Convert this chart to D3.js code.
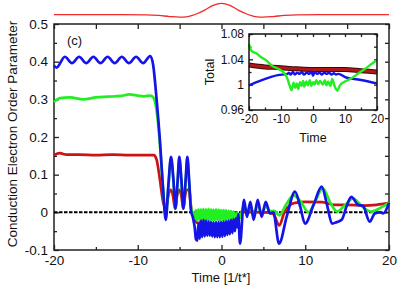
<!DOCTYPE html>
<html>
<head>
<meta charset="utf-8">
<script src="https://d3js.org/d3.v7.min.js"></script>
<style>
  body { margin: 0; background: #fff; }
  svg text { font-family: "Liberation Sans", Arial, sans-serif; fill: #111; }
</style>
</head>
<body>
<svg id="main-svg"></svg>
<script>
let width = 411;
let height = 288;

// pulse drawn above the main frame (arbitrary units)
let pulse = [[-20, 0], [-12, 0], [-9, -0.01], [-7.5, -0.06], [-6.2, -0.16], [-5, -0.22], [-4, -0.16],
  [-3, 0.06], [-2, 0.4], [-1, 0.82], [0, 1], [1, 0.82], [2, 0.4], [3, 0.06], [4, -0.16], [5, -0.22],
  [6.2, -0.16], [7.5, -0.06], [9, -0.01], [12, 0], [20, 0]];

// main panel series [time, order parameter]
let blue = [[-20, 0.390], [-19.7, 0.384], [-18.7, 0.413], [-17.85, 0.396], [-17.0, 0.413], [-16.15, 0.396],
  [-15.3, 0.413], [-14.45, 0.396], [-13.6, 0.413], [-12.75, 0.396], [-11.9, 0.413], [-11.05, 0.396],
  [-10.2, 0.413], [-9.35, 0.396], [-8.5, 0.415], [-8.15, 0.39], [-7.75, 0.30], [-7.35, 0.19], [-7.0, 0.07],
  [-6.65, -0.02], [-6.35, 0.07], [-6.03, 0.147], [-5.75, 0.09], [-5.5, 0.01], [-5.25, 0.08], [-5.04, 0.147],
  [-4.8, 0.09], [-4.56, 0.01], [-4.3, 0.08], [-4.08, 0.147], [-3.85, 0.08], [-3.65, 0.006], [-3.4, -0.015],
  [-3.2, -0.04], [-3.05, -0.072], [-2.9, -0.075], [-2.75, -0.03], [-2.6, -0.07], [-2.45, -0.022], [-2.3, -0.066],
  [-2.15, -0.02], [-2.0, -0.064], [-1.85, -0.022], [-1.7, -0.062], [-1.55, -0.024], [-1.4, -0.062], [-1.25, -0.025],
  [-1.1, -0.064], [-0.95, -0.026], [-0.8, -0.066], [-0.65, -0.026], [-0.5, -0.066], [-0.35, -0.025], [-0.2, -0.066],
  [-0.05, -0.025], [0.1, -0.065], [0.25, -0.024], [0.4, -0.063], [0.55, -0.023], [0.7, -0.06], [0.85, -0.022],
  [1.0, -0.058], [1.15, -0.02], [1.3, -0.055], [1.45, -0.018], [1.6, -0.05], [1.75, -0.015], [1.9, -0.04],
  [2.0, -0.005], [2.21, -0.083], [2.69, 0.033], [3.04, -0.012], [3.44, 0.028], [3.84, -0.02], [4.32, 0.033],
  [4.8, -0.012], [5.28, 0.028], [5.79, -0.003], [6.19, 0.0], [6.87, -0.083], [7.8, -0.01], [8.78, 0.055],
  [9.4, 0.015], [9.97, -0.03], [11.0, 0.02], [11.96, 0.068], [12.6, 0.02], [13.2, -0.03], [13.75, -0.026],
  [14.35, -0.02], [15.0, 0.02], [15.5, 0.041], [16.3, 0.02], [16.9, 0.017], [17.7, -0.025], [18.3, -0.003],
  [18.9, 0.0], [19.3, -0.003], [20, 0.025]];

let green = [[-20, 0.293], [-19.3, 0.303], [-18.1, 0.305], [-16.5, 0.300], [-15, 0.305], [-13.5, 0.307],
  [-12, 0.309], [-11, 0.313], [-10, 0.310], [-9.3, 0.308], [-8.5, 0.310], [-8.15, 0.305], [-7.75, 0.27],
  [-7.35, 0.18], [-7.0, 0.07], [-6.65, -0.01], [-6.35, 0.065], [-6.03, 0.14], [-5.75, 0.085], [-5.5, 0.01],
  [-5.25, 0.075], [-5.04, 0.14], [-4.8, 0.085], [-4.56, 0.012], [-4.3, 0.075], [-4.08, 0.14], [-3.85, 0.075],
  [-3.6, 0.008], [-3.35, -0.005], [-3.2, -0.018], [-3.05, 0.006], [-2.9, -0.022], [-2.75, 0.008], [-2.6, -0.02],
  [-2.45, 0.008], [-2.3, -0.019], [-2.15, 0.009], [-2.0, -0.02], [-1.85, 0.008], [-1.7, -0.02], [-1.55, 0.009],
  [-1.4, -0.021], [-1.25, 0.008], [-1.1, -0.02], [-0.95, 0.007], [-0.8, -0.021], [-0.65, 0.008], [-0.5, -0.02],
  [-0.35, 0.007], [-0.2, -0.021], [-0.05, 0.006], [0.1, -0.02], [0.25, 0.006], [0.4, -0.02], [0.55, 0.005],
  [0.7, -0.019], [0.85, 0.004], [1.0, -0.018], [1.15, 0.003], [1.3, -0.017], [1.45, 0.002], [1.6, -0.015],
  [1.8, -0.002], [2.0, -0.005], [2.2, -0.015], [2.69, 0.02], [3.04, -0.004], [3.44, 0.017], [3.84, -0.008],
  [4.32, 0.02], [4.8, -0.004], [5.28, 0.017], [5.8, 0.003], [6.3, 0.004], [6.9, -0.008], [7.7, 0.02],
  [8.6, 0.045], [9.4, 0.03], [10.4, 0.0], [11.2, 0.03], [12.1, 0.064], [13.0, 0.025], [13.8, 0.002],
  [14.7, 0.018], [15.7, 0.037], [16.8, 0.015], [17.9, 0.002], [19, 0.012], [20, 0.025]];

let red = [[-20, 0.152], [-19.3, 0.157], [-18.5, 0.153], [-17, 0.153], [-15, 0.152], [-13, 0.153], [-11, 0.152],
  [-9, 0.152], [-8.1, 0.152], [-7.75, 0.14], [-7.35, 0.086], [-6.95, 0.025], [-6.63, 0.012], [-6.3, 0.05],
  [-6.07, 0.06], [-5.8, 0.045], [-5.55, 0.01], [-5.3, 0.045], [-5.04, 0.06], [-4.8, 0.045], [-4.56, 0.01],
  [-4.3, 0.05], [-4.1, 0.06], [-3.9, 0.06], [-3.56, 0.002], [-2.77, -0.029], [-2.2, -0.015], [-1, -0.012],
  [0, -0.013], [1, -0.015], [1.6, -0.015], [2.2, -0.01], [2.6, 0.01], [3.0, -0.002], [3.5, 0.002], [4.5, 0.0],
  [5.5, 0.0], [6.2, -0.005], [6.9, -0.035], [7.5, 0.0], [8.2, 0.02], [8.8, 0.025], [10, 0.028], [12, 0.027],
  [13.5, 0.02], [15, 0.02], [17, 0.018], [18.5, 0.02], [20, 0.025]];

// inset series [time, total]
let insetRed = [[-20, 1.031], [-15, 1.028], [-11, 1.027], [-5, 1.025], [0, 1.024], [5, 1.024], [10, 1.024],
  [15, 1.022], [20, 1.020]];
let insetBlue = [[-20, 0.999], [-16, 1.007], [-11, 1.015], [-8, 1.017], [-7.5, 1.019], [-7, 1.016], [-6.3, 1.020],
  [-5.6, 1.016], [-5, 1.019], [-4.2, 1.017], [-3.5, 1.020], [-2.8, 1.016], [-2, 1.019], [-1.2, 1.017],
  [-0.5, 1.021], [0, 1.014], [0.5, 1.020], [1.3, 1.017], [2, 1.019], [2.8, 1.016], [3.5, 1.019], [4.3, 1.017],
  [5, 1.019], [5.8, 1.016], [6.5, 1.018], [7.2, 1.016], [8, 1.017], [10, 1.012], [15.4, 1.007], [20, 1.002]];
let insetGreen = [[-20, 1.064], [-19.3, 1.054], [-17.6, 1.049], [-16.1, 1.043], [-14.5, 1.038], [-12.9, 1.030],
  [-10.9, 1.025], [-9.3, 1.020], [-8.2, 1.012], [-7.2, 0.997], [-6.7, 0.991], [-6.1, 1.003], [-5.6, 0.995],
  [-5.1, 1.002], [-4.6, 0.993], [-4.1, 1.004], [-3.6, 0.998], [-3.1, 1.006], [-2.7, 0.997], [-2.1, 1.005],
  [-1.6, 0.999], [-1, 1.007], [-0.5, 0.998], [0, 1.004], [0.5, 1.000], [1, 1.007], [1.6, 1.001], [2.2, 1.006],
  [3.1, 1.000], [3.7, 1.007], [4.2, 0.999], [4.7, 1.005], [5.4, 0.998], [6.0, 1.009], [6.8, 0.997],
  [7.6, 0.9905], [8.4, 0.999], [10, 1.005], [12, 1.010], [14.2, 1.018], [16.3, 1.025], [18.4, 1.033],
  [19.9, 1.038]];

let yTicks = [-0.1, 0, 0.1, 0.2, 0.3, 0.4, 0.5];
let xTicks = [-20, -10, 0, 10, 20];
let insetYTicks = [0.96, 1, 1.04, 1.08];

let svg = d3.select('#main-svg')
  .attr('width', width)
  .attr('height', height);

let x = d3.scaleLinear().domain([-20, 20]).range([54, 389]);
let y = d3.scaleLinear().domain([-0.1, 0.5]).range([250, 24]);
let yPulse = d3.scaleLinear().domain([0, 1]).range([14.7, 3.3]);

let xi = d3.scaleLinear().domain([-20, 20]).range([249, 377]);
let yi = d3.scaleLinear().domain([0.96, 1.08]).range([110, 34]);

// plain hyphen minus, like the original
let fmt = d => String(+d.toFixed(2));

function minorOf(ticks) {
  let out = [];
  for (let i = 0; i < ticks.length - 1; i++) out.push((ticks[i] + ticks[i + 1]) / 2);
  return out;
}

function drawAxis(axis, tx, ty) {
  let a = svg.append('g').attr('transform', `translate(${tx},${ty})`).call(axis);
  a.select('.domain').remove();
  a.selectAll('line').attr('stroke', '#222').attr('stroke-width', 1.3);
  return a;
}

// pulse on top
svg.append('path').datum(pulse)
  .attr('d', d3.line().x(d => x(d[0])).y(d => yPulse(d[1])).curve(d3.curveMonotoneX))
  .attr('fill', 'none')
  .attr('stroke', '#f22a2a')
  .attr('stroke-width', 1.3);

// main axes
let left = drawAxis(d3.axisLeft(y).tickValues(yTicks).tickSize(-5).tickSizeOuter(0).tickPadding(6)
  .tickFormat(fmt), 54, 0);
left.selectAll('text').style('font-size', '13.5px');
drawAxis(d3.axisLeft(y).tickValues(minorOf(yTicks)).tickSize(-3).tickSizeOuter(0).tickFormat(''), 54, 0);
drawAxis(d3.axisRight(y).tickValues(yTicks.concat(minorOf(yTicks))).tickSize(-4).tickSizeOuter(0).tickFormat(''), 389, 0);
let bottom = drawAxis(d3.axisBottom(x).tickValues(xTicks).tickSize(-5).tickSizeOuter(0).tickPadding(5)
  .tickFormat(fmt), 0, 250);
bottom.selectAll('text').style('font-size', '13.5px');
drawAxis(d3.axisBottom(x).tickValues(minorOf(xTicks)).tickSize(-3).tickSizeOuter(0).tickFormat(''), 0, 250);
drawAxis(d3.axisTop(x).tickValues(xTicks.concat(minorOf(xTicks))).tickSize(-5).tickSizeOuter(0).tickFormat(''), 0, 24);

svg.append('rect')
  .attr('x', 54).attr('y', 24)
  .attr('width', 389 - 54).attr('height', 250 - 24)
  .attr('fill', 'none').attr('stroke', '#222').attr('stroke-width', 1.5);

// zero line
svg.append('line')
  .attr('x1', x(-20)).attr('x2', x(20))
  .attr('y1', y(0)).attr('y2', y(0))
  .attr('stroke', '#000').attr('stroke-width', 2).attr('stroke-dasharray', '3.5,1.5');

let line = d3.line().x(d => x(d[0])).y(d => y(d[1])).curve(d3.curveMonotoneX);
[[red, '#c81414'], [green, '#22ee22'], [blue, '#1414e6']].forEach(([data, color]) => {
  svg.append('path').datum(data)
    .attr('d', line)
    .attr('fill', 'none')
    .attr('stroke', color)
    .attr('stroke-width', 2.7)
    .attr('stroke-linejoin', 'round');
});

svg.append('text').attr('x', 67).attr('y', 45).style('font-size', '13px').text('(c)');

svg.append('text')
  .attr('transform', `translate(17,134) rotate(-90)`)
  .attr('text-anchor', 'middle')
  .style('font-size', '13.5px')
  .text('Conduction Electron Order Parameter');

svg.append('text')
  .attr('x', 221).attr('y', 282)
  .attr('text-anchor', 'middle')
  .style('font-size', '13px')
  .text('Time [1/t*]');

// inset
svg.append('rect')
  .attr('x', 249).attr('y', 34)
  .attr('width', 377 - 249).attr('height', 110 - 34)
  .attr('fill', '#fff');

let iLeft = drawAxis(d3.axisLeft(yi).tickValues(insetYTicks).tickSize(-4).tickSizeOuter(0).tickPadding(5)
  .tickFormat(fmt), 249, 0);
iLeft.selectAll('text').style('font-size', '12px');
drawAxis(d3.axisLeft(yi).tickValues(minorOf(insetYTicks)).tickSize(-2.5).tickSizeOuter(0).tickFormat(''), 249, 0);
drawAxis(d3.axisRight(yi).tickValues(insetYTicks.concat(minorOf(insetYTicks))).tickSize(-3).tickSizeOuter(0).tickFormat(''), 377, 0);
let iBottom = drawAxis(d3.axisBottom(xi).tickValues(xTicks).tickSize(-4).tickSizeOuter(0).tickPadding(4)
  .tickFormat(fmt), 0, 110);
iBottom.selectAll('text').style('font-size', '12px');
drawAxis(d3.axisBottom(xi).tickValues(minorOf(xTicks)).tickSize(-2.5).tickSizeOuter(0).tickFormat(''), 0, 110);
drawAxis(d3.axisTop(xi).tickValues(xTicks.concat(minorOf(xTicks))).tickSize(-3).tickSizeOuter(0).tickFormat(''), 0, 34);

let iline = d3.line().x(d => xi(d[0])).y(d => yi(d[1])).curve(d3.curveMonotoneX);
svg.append('path').datum(insetRed)
  .attr('d', iline).attr('fill', 'none').attr('stroke', '#3a0a0a').attr('stroke-width', 5);
svg.append('path').datum(insetRed)
  .attr('d', iline).attr('fill', 'none').attr('stroke', '#b01818').attr('stroke-width', 3);
svg.append('path').datum(insetBlue)
  .attr('d', iline).attr('fill', 'none').attr('stroke', '#1414e6').attr('stroke-width', 2.4);
svg.append('path').datum(insetGreen)
  .attr('d', iline).attr('fill', 'none').attr('stroke', '#22ee22').attr('stroke-width', 2.4);

svg.append('rect')
  .attr('x', 249).attr('y', 34)
  .attr('width', 377 - 249).attr('height', 110 - 34)
  .attr('fill', 'none').attr('stroke', '#111').attr('stroke-width', 1.5);

svg.append('text')
  .attr('transform', `translate(214,72) rotate(-90)`)
  .attr('text-anchor', 'middle')
  .style('font-size', '12.5px')
  .text('Total');

svg.append('text')
  .attr('x', 313).attr('y', 142)
  .attr('text-anchor', 'middle')
  .style('font-size', '12.5px')
  .text('Time');
</script>
</body>
</html>
